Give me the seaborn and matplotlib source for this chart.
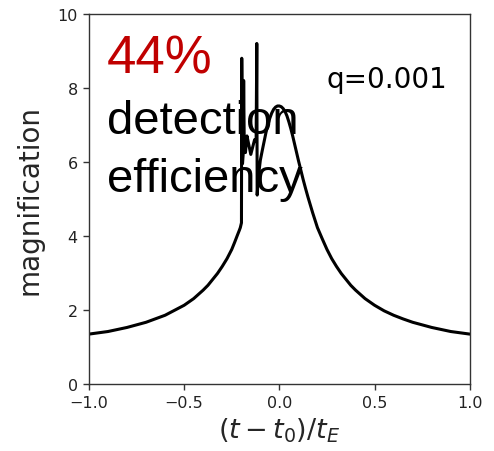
import numpy as np
import pandas as pd
import matplotlib
matplotlib.use("Agg")
import matplotlib.pyplot as plt
import seaborn as sns

# time since peak in units of Einstein time, and magnification
t_vals = [-1.00, -0.90, -0.80, -0.70, -0.60, -0.50, -0.45, -0.40, -0.375, -0.35,
          -0.325, -0.30, -0.275, -0.25, -0.235, -0.22, -0.21, -0.205, -0.199,
          -0.1975, -0.1935, -0.190, -0.1875, -0.184, -0.178, -0.170, -0.160,
          -0.150, -0.140, -0.130, -0.122, -0.1185, -0.1165,
          -0.110, -0.100, -0.090, -0.080, -0.070, -0.060, -0.050, -0.040,
          -0.030, -0.020, -0.010, 0.000,
          0.010, 0.020, 0.030, 0.040, 0.050, 0.060, 0.070, 0.080, 0.090,
          0.100, 0.1125, 0.125, 0.1375, 0.150, 0.175, 0.200, 0.225, 0.250,
          0.275, 0.300, 0.325, 0.350, 0.375, 0.400, 0.450, 0.500, 0.550,
          0.600, 0.650, 0.700, 0.800, 0.900, 1.000]
mag_vals = [1.34, 1.41, 1.52, 1.66, 1.85, 2.12, 2.30, 2.53, 2.66, 2.82,
            2.98, 3.17, 3.38, 3.63, 3.82, 4.02, 4.15, 4.22, 4.35,
            8.80, 5.95, 6.20, 8.20, 6.30, 6.25, 6.70, 6.45,
            6.20, 6.40, 6.60, 6.55, 9.20, 5.10,
            5.60, 6.04, 6.30, 6.55, 6.80, 7.00, 7.18, 7.32,
            7.42, 7.48, 7.51, 7.51,
            7.49, 7.44, 7.36, 7.24, 7.08, 6.90, 6.70, 6.48, 6.26,
            6.04, 5.78, 5.52, 5.28, 5.05, 4.62, 4.22, 3.92, 3.63,
            3.38, 3.17, 2.98, 2.82, 2.66, 2.53, 2.30, 2.12, 1.97,
            1.85, 1.75, 1.66, 1.52, 1.41, 1.34]

x_ticks = [-1.0, -0.5, 0.0, 0.5, 1.0]
y_ticks = [0, 2, 4, 6, 8, 10]

df = pd.DataFrame({"t": t_vals, "A": mag_vals})

sns.set_theme(style="ticks")
plt.rcParams["font.family"] = ["DejaVu Sans"]

fig = plt.figure(figsize=(4.94, 4.52), dpi=100)
ax = fig.add_axes([0.180, 0.149, 0.771, 0.818])

sns.lineplot(data=df, x="t", y="A", sort=False, estimator=None,
             color="black", linewidth=2.2, ax=ax)

ax.set_xlim(-1.0, 1.0)
ax.set_ylim(0, 10)
ax.set_xticks(x_ticks)
ax.set_yticks(y_ticks)
ax.tick_params(labelsize=11.5, length=4.5, width=1, color="#333333",
               labelcolor="#222222")
for s in ax.spines.values():
    s.set_visible(True)
    s.set_color("#333333")
    s.set_linewidth(1.0)

ax.set_xlabel(r"$(t-t_0)/t_E$", fontsize=19.5, labelpad=4)
ax.set_ylabel("magnification", fontsize=20, labelpad=10)

ax.text(0.625, 0.825, "q=0.001", transform=ax.transAxes, fontsize=20,
        family="DejaVu Sans", color="black", va="center", ha="left")
fig.text(107/494, 1 - 59/452, "44%", fontsize=38, color="#C00000",
         family="Liberation Sans", va="center", ha="left")
fig.text(107/494, 1 - 122/452, "detection", fontsize=34, color="black",
         family="Liberation Sans", va="center", ha="left")
fig.text(107/494, 1 - 180/452, "efficiency", fontsize=34, color="black",
         family="Liberation Sans", va="center", ha="left")

fig.savefig("out.png", dpi=100)
